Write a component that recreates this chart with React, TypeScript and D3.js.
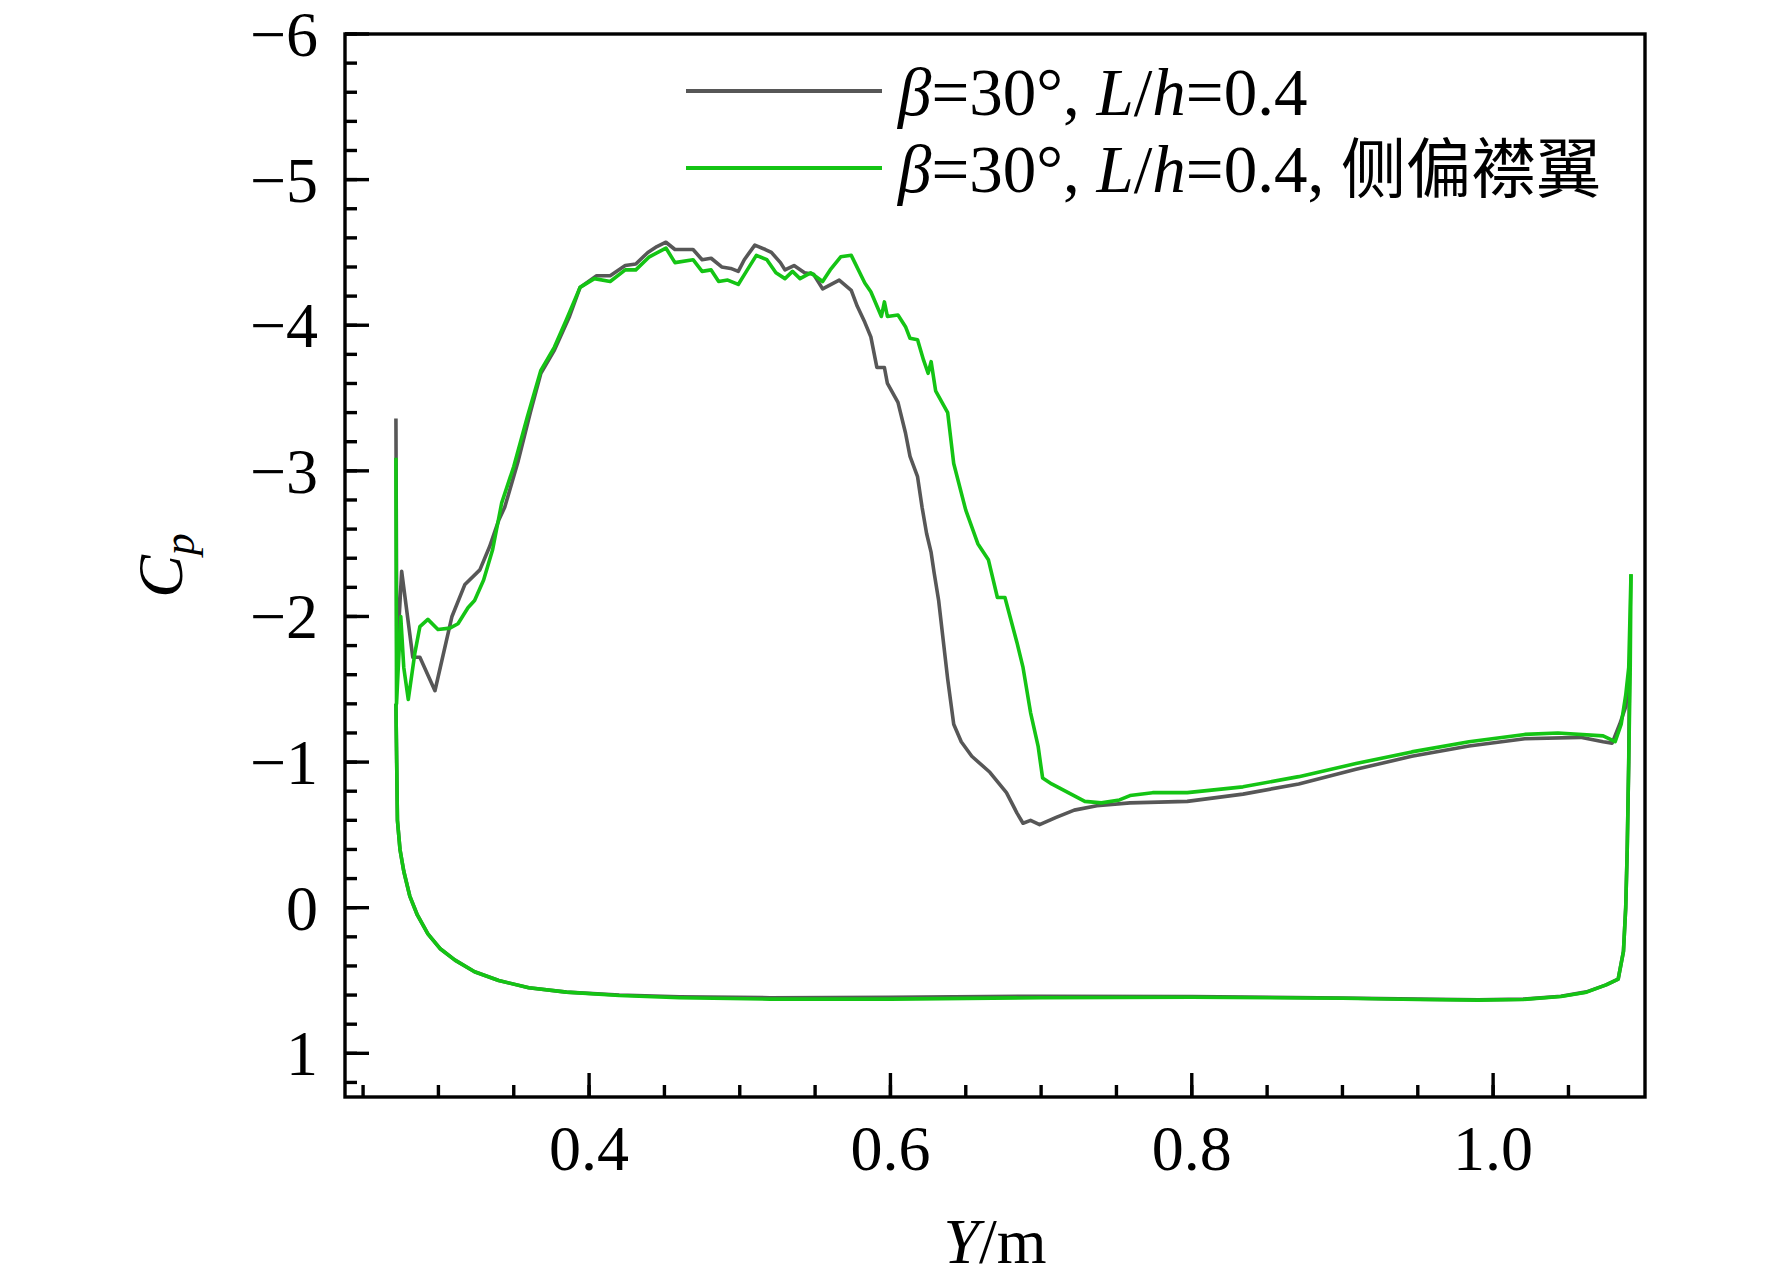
import React from "react";
import * as d3 from "d3";

// ---- data (Y [m], Cp) ----
const grayUpper: [number, number][] = [
  [0.2718, -3.36], [0.2724, -1.7], [0.2756, -2.31], [0.283, -1.72], [0.2877, -1.72], [0.2977, -1.49],
  [0.309, -2.0], [0.3176, -2.22], [0.3275, -2.32], [0.334, -2.48], [0.34, -2.66], [0.344, -2.75],
  [0.353, -3.07], [0.361, -3.4], [0.368, -3.67], [0.377, -3.83], [0.387, -4.06], [0.394, -4.26],
  [0.405, -4.34], [0.414, -4.34], [0.424, -4.41], [0.431, -4.42], [0.439, -4.5], [0.445, -4.54],
  [0.451, -4.57], [0.457, -4.52], [0.469, -4.52], [0.475, -4.45], [0.481, -4.46], [0.488, -4.4],
  [0.494, -4.39], [0.499, -4.37], [0.503, -4.45], [0.51, -4.55], [0.517, -4.52], [0.521, -4.5],
  [0.527, -4.43], [0.53, -4.38], [0.536, -4.41], [0.543, -4.36], [0.549, -4.35], [0.555, -4.25],
  [0.566, -4.31], [0.574, -4.24], [0.578, -4.13], [0.583, -4.02], [0.587, -3.92], [0.591, -3.71],
  [0.596, -3.71], [0.598, -3.6], [0.605, -3.47], [0.61, -3.26], [0.613, -3.1], [0.618, -2.96],
  [0.621, -2.75], [0.624, -2.57], [0.627, -2.44], [0.629, -2.3], [0.632, -2.11], [0.638, -1.57],
  [0.642, -1.26], [0.647, -1.14], [0.654, -1.04], [0.666, -0.93], [0.677, -0.79], [0.684, -0.65],
  [0.688, -0.58], [0.693, -0.6], [0.699, -0.57], [0.71, -0.62], [0.722, -0.67], [0.737, -0.7],
  [0.759, -0.72], [0.797, -0.73], [0.834, -0.78], [0.871, -0.85], [0.909, -0.95], [0.946, -1.04],
  [0.984, -1.11], [1.021, -1.16], [1.058, -1.17], [1.073, -1.14], [1.079, -1.13], [1.084, -1.26],
  [1.088, -1.38], [1.0905, -1.61],
];

const grayLower: [number, number][] = [
  [0.2718, -1.4], [0.2728, -0.6], [0.2745, -0.4], [0.277, -0.25], [0.281, -0.08], [0.286, 0.05],
  [0.293, 0.18], [0.301, 0.28], [0.311, 0.36], [0.324, 0.44], [0.34, 0.5], [0.36, 0.55],
  [0.385, 0.58], [0.42, 0.6], [0.46, 0.612], [0.52, 0.618], [0.6, 0.615], [0.7, 0.608],
  [0.8, 0.61], [0.9, 0.62], [0.95, 0.628], [0.99, 0.632], [1.02, 0.628], [1.045, 0.608],
  [1.062, 0.578], [1.075, 0.53], [1.083, 0.49], [1.0865, 0.3], [1.088, 0.0], [1.089, -0.4],
  [1.09, -1.0], [1.0905, -1.61],
];

const greenUpper: [number, number][] = [
  [0.2718, -3.09], [0.2722, -1.4], [0.275, -2.0], [0.277, -1.65], [0.28, -1.43], [0.2844, -1.75],
  [0.2877, -1.93], [0.293, -1.98], [0.2997, -1.91], [0.3076, -1.92], [0.313, -1.95], [0.3196, -2.06],
  [0.324, -2.11], [0.33, -2.25], [0.336, -2.46], [0.342, -2.78], [0.35, -3.03], [0.359, -3.37],
  [0.368, -3.69], [0.377, -3.85], [0.385, -4.04], [0.394, -4.26], [0.4035, -4.32], [0.414, -4.3],
  [0.424, -4.38], [0.431, -4.38], [0.44, -4.47], [0.451, -4.53], [0.457, -4.43], [0.469, -4.45],
  [0.475, -4.37], [0.481, -4.38], [0.486, -4.3], [0.492, -4.31], [0.499, -4.28], [0.505, -4.38],
  [0.511, -4.48], [0.518, -4.45], [0.524, -4.36], [0.53, -4.32], [0.535, -4.37], [0.54, -4.32],
  [0.547, -4.36], [0.555, -4.3], [0.56, -4.38], [0.567, -4.47], [0.574, -4.48], [0.583, -4.29],
  [0.587, -4.23], [0.594, -4.06], [0.596, -4.16], [0.598, -4.06], [0.605, -4.07], [0.61, -3.99],
  [0.613, -3.91], [0.618, -3.9], [0.622, -3.76], [0.625, -3.67], [0.627, -3.75], [0.63, -3.55],
  [0.638, -3.4], [0.642, -3.05], [0.65, -2.73], [0.658, -2.5], [0.665, -2.39], [0.671, -2.13],
  [0.676, -2.13], [0.684, -1.82], [0.688, -1.65], [0.693, -1.34], [0.698, -1.11], [0.701, -0.89],
  [0.707, -0.85], [0.718, -0.79], [0.729, -0.73], [0.74, -0.72], [0.752, -0.74], [0.759, -0.77],
  [0.774, -0.79], [0.797, -0.79], [0.834, -0.83], [0.871, -0.9], [0.909, -0.99], [0.946, -1.07],
  [0.984, -1.14], [1.021, -1.19], [1.043, -1.2], [1.073, -1.18], [1.081, -1.14], [1.085, -1.26],
  [1.088, -1.46], [1.09, -1.65], [1.0915, -2.29],
];

const greenLower: [number, number][] = [
  [0.2718, -1.4], [0.2728, -0.6], [0.2745, -0.4], [0.277, -0.25], [0.281, -0.08], [0.286, 0.05],
  [0.293, 0.18], [0.301, 0.28], [0.311, 0.36], [0.324, 0.44], [0.34, 0.5], [0.36, 0.55],
  [0.385, 0.58], [0.42, 0.603], [0.46, 0.618], [0.52, 0.628], [0.6, 0.628], [0.7, 0.618],
  [0.8, 0.615], [0.9, 0.622], [0.95, 0.63], [0.99, 0.635], [1.02, 0.63], [1.045, 0.61],
  [1.062, 0.58], [1.075, 0.53], [1.083, 0.49], [1.0865, 0.3], [1.088, 0.0], [1.089, -0.4],
  [1.09, -1.0], [1.091, -1.65], [1.0915, -2.29],
];

const xMajorTicks = [0.4, 0.6, 0.8, 1.0];
const xMinorTicks = d3.range(0.25, 1.09, 0.05);
const yMajorTicks = [-6, -5, -4, -3, -2, -1, 0, 1];
const yMinorTicks = d3.range(-6, 1.3, 0.2);

const seriesNames = ["β=30°, L/h=0.4", "β=30°, L/h=0.4, 侧偏襟翼"];
const seriesColors = ["#575757", "#14c414"];

const W = 1772;
const H = 1284;
const FONT = "'Liberation Serif', 'Times New Roman', serif";

export default function App() {
  const x = d3.scaleLinear().domain([0.238, 1.1008]).range([345, 1645]);
  const y = d3.scaleLinear().domain([-6, 1.3]).range([34, 1097]);
  const line = d3
    .line<[number, number]>()
    .x((d) => x(d[0]))
    .y((d) => y(d[1]));

  const [x0, x1] = x.range();
  const [y0, y1] = y.range();

  const fmtY = (v: number) => (v < 0 ? "\u2212" + Math.abs(v) : String(v));

  const series = [
    { upper: grayUpper, lower: grayLower, color: seriesColors[0] },
    { upper: greenUpper, lower: greenLower, color: seriesColors[1] },
  ];

  return (
    <svg
      width={W}
      height={H}
      style={{ position: "absolute", left: 0, top: 0, background: "#fff" }}
      fontFamily={FONT}
    >
      <rect x={0} y={0} width={W} height={H} fill="#fff" />
      {/* curves */}
      {series.map((s, i) => (
        <g key={i} fill="none" stroke={s.color} strokeWidth={3.6} strokeLinejoin="round">
          <path d={line(s.lower) || ""} />
          <path d={line(s.upper) || ""} />
        </g>
      ))}

      {/* frame */}
      <rect x={x0} y={y0} width={x1 - x0} height={y1 - y0} fill="none" stroke="#000" strokeWidth={3.4} />

      {/* x ticks */}
      {xMinorTicks.map((t) => (
        <line key={"xm" + t} x1={x(t)} x2={x(t)} y1={y1} y2={y1 - 12} stroke="#000" strokeWidth={3.4} />
      ))}
      {xMajorTicks.map((t) => (
        <g key={"xM" + t}>
          <line x1={x(t)} x2={x(t)} y1={y1} y2={y1 - 24} stroke="#000" strokeWidth={3.4} />
          <text x={x(t)} y={1170} fontSize={64} textAnchor="middle" fill="#000">
            {t.toFixed(1)}
          </text>
        </g>
      ))}

      {/* y ticks */}
      {yMinorTicks.map((t) => (
        <line key={"ym" + t} x1={x0} x2={x0 + 12} y1={y(t)} y2={y(t)} stroke="#000" strokeWidth={3.4} />
      ))}
      {yMajorTicks.map((t) => (
        <g key={"yM" + t}>
          <line x1={x0} x2={x0 + 24} y1={y(t)} y2={y(t)} stroke="#000" strokeWidth={3.4} />
          <text x={318} y={y(t) + 22} fontSize={64} textAnchor="end" fill="#000">
            {fmtY(t)}
          </text>
        </g>
      ))}

      {/* axis titles */}
      <text x={(x0 + x1) / 2} y={1263} fontSize={64} textAnchor="middle" fill="#000">
        <tspan fontStyle="italic">Y</tspan>/m
      </text>
      <text transform={`translate(182,${(y0 + y1) / 2}) rotate(-90)`} fontSize={64} textAnchor="middle" fill="#000">
        <tspan fontStyle="italic">C</tspan>
        <tspan fontStyle="italic" fontSize={44} dy={12}>p</tspan>
      </text>

      {/* legend */}
      {seriesNames.map((name, i) => {
        const ly = 91 + i * 77;
        return (
          <g key={"lg" + i}>
            <line x1={686} x2={882} y1={ly} y2={ly} stroke={seriesColors[i]} strokeWidth={4.2} />
            <text x={898} y={ly + 24} fontSize={67} fill="#000">
              <tspan fontStyle="italic">β</tspan>
              <tspan>=30°, </tspan>
              <tspan fontStyle="italic">L</tspan>
              <tspan>/</tspan>
              <tspan fontStyle="italic">h</tspan>
              <tspan>=0.4</tspan>
              {i === 1 && <tspan>, </tspan>}
              {i === 1 && (
                <tspan fontFamily="'Noto Sans CJK SC', sans-serif" fontSize={65}>
                  {name.split(", ").slice(2).join("")}
                </tspan>
              )}
            </text>
          </g>
        );
      })}
    </svg>
  );
}
